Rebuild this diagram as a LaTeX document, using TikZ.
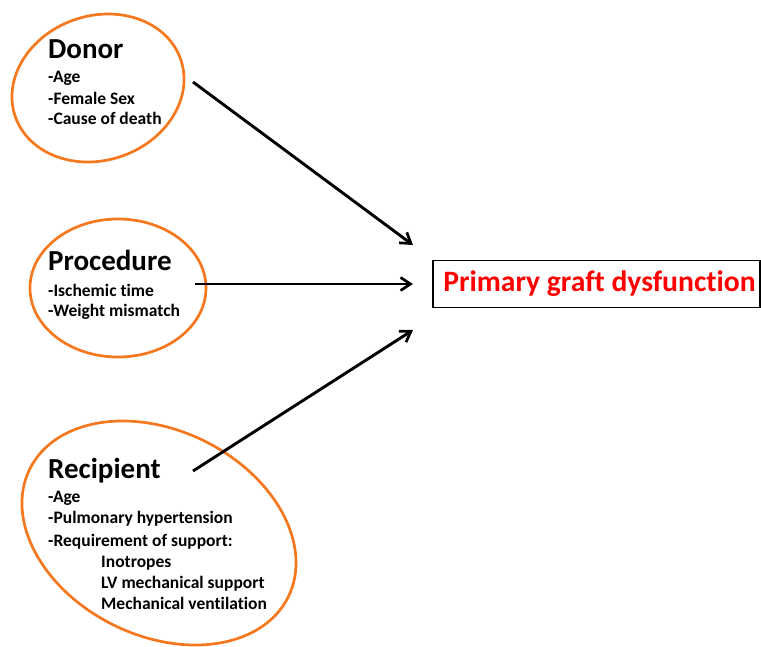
\documentclass[tikz,border=0pt]{standalone}
\usepackage{fontspec}
\setmainfont{Carlito}[Ligatures=NoCommon]
\usetikzlibrary{arrows.meta}
\definecolor{ellorange}{RGB}{245,120,30}
\definecolor{pgdred}{RGB}{255,0,0}
\begin{document}
\begin{tikzpicture}[x=1pt,y=-1pt,
  oval/.style={draw=ellorange,line width=2.7pt},
  ttl/.style={anchor=base west,inner sep=0pt,font=\fontsize{29}{32}\selectfont\bfseries},
  itm/.style={anchor=base west,inner sep=0pt,font=\fontsize{17.5}{20}\selectfont\bfseries},
  conn/.style={line width=2.9pt,-{Straight Barb[length=10pt,width=13pt,line width=2.7pt]}}]
\useasboundingbox (0,0) rectangle (761,646);
% ellipses
\draw[oval,rotate around={19:(98,88)}] (98,88) ellipse [x radius=87.5,y radius=72.2];
\draw[oval] (118,288) ellipse [x radius=88,y radius=69];
\draw[oval,rotate around={-26.3:(159,533)}] (159,533) ellipse [x radius=144.2,y radius=102.6];
% donor
\node[ttl] (dt) at (48,58) {Donor};
\node[itm] (d1) at (48,82) {-Age};
\node[itm] (d2) at (48,104) {-Female Sex};
\node[itm] (d3) at (48,124) {-Cause of death};
% procedure
\node[ttl] (pt) at (48,270) {Procedure};
\node[itm] (p1) at (48,296) {-Ischemic time};
\node[itm] (p2) at (48,316) {-Weight mismatch};
% recipient
\node[ttl] (rt) at (48,478) {Recipient};
\node[itm] (r1) at (48,502) {-Age};
\node[itm] (r2) at (48,523) {-Pulmonary hypertension};
\node[itm] (r3) at (48,546) {-Requirement of support:};
\node[itm] (r4) at (101,567) {Inotropes};
\node[itm] (r5) at (101,588) {LV mechanical support};
\node[itm] (r6) at (101,609) {Mechanical ventilation};
% outcome box
\node[draw,line width=1.3pt,minimum width=327pt,minimum height=47pt,inner sep=0pt,
  text=pgdred,font=\fontsize{29.6}{32}\selectfont\bfseries] (pgd) at (596.5,284) {\hspace*{6pt}Primary graft dysfunction};
% connectors
\coordinate (ds) at (193,82);
\coordinate (de) at (413,245);
\coordinate (ps) at (195,284);
\coordinate (pe) at (413,284);
\coordinate (rs) at (193,471);
\coordinate (re) at (413,330);
\draw[conn] (ds) -- (de);
\draw[conn] (ps) -- (pe);
\draw[conn] (rs) -- (re);
\end{tikzpicture}
\end{document}
